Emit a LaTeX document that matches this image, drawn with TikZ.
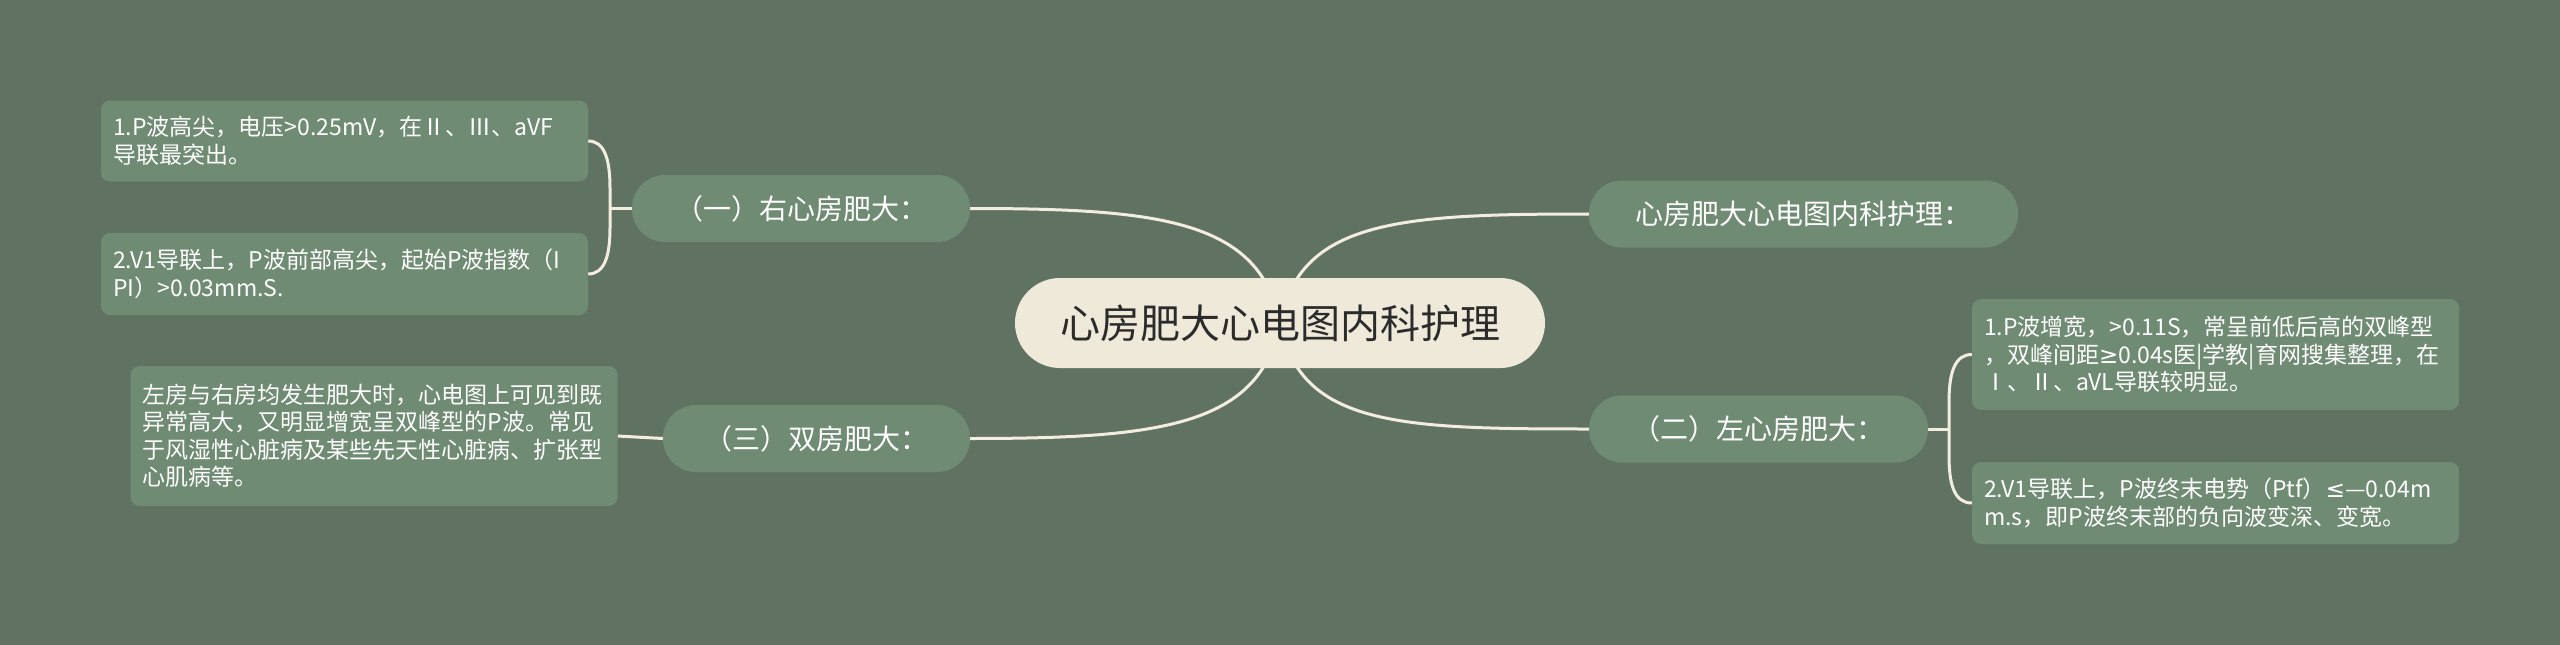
\documentclass[tikz,border=0pt]{standalone}
\usepackage{fontspec}
\setmainfont{Noto Sans CJK SC}
\newfontfamily\symfont{DejaVu Sans}
\usetikzlibrary{backgrounds}
\definecolor{bg}{HTML}{607363}
\definecolor{nodefill}{HTML}{6F8B74}
\definecolor{cream}{HTML}{EFE9DA}
\definecolor{linec}{HTML}{F2EDDF}
\definecolor{darktext}{HTML}{2B2B2B}
\begin{document}
\begin{tikzpicture}[x=1pt,y=-1pt,
 centerbox/.style={fill=cream, rounded corners=45pt, minimum width=530pt, minimum height=90pt, inner sep=0pt, font=\fontsize{40}{48}\selectfont, text=darktext},
 branchbox/.style={fill=nodefill, rounded corners=33pt, minimum height=67pt, inner sep=0pt, font=\fontsize{28}{34}\selectfont, text=white},
 leafbox/.style={fill=nodefill, rounded corners=9pt, inner xsep=12pt, inner ysep=0pt, text width=463pt, align=left, font=\fontsize{23}{27.5}\selectfont, text=white},
 conn/.style={draw=linec, line width=3pt}]
\useasboundingbox (0,0) rectangle (2560,645);
% nodes
\node[centerbox] (c) at (1280,323) {心房肥大心电图内科护理};
\node[branchbox, minimum width=338pt] (b1) at (801,208.5) {（一）右心房肥大：};
\node[branchbox, minimum width=307pt] (b3) at (816.5,438.5) {（三）双房肥大：};
\node[branchbox, minimum width=429pt] (b0) at (1803.5,214) {心房肥大心电图内科护理：};
\node[branchbox, minimum width=339pt] (b2) at (1758.5,429) {（二）左心房肥大：};
\node[leafbox, minimum height=81pt] (l1a) at (344.5,141) {1.P波高尖，电压>0.25mV，在Ⅱ、Ⅲ、aVF\\导联最突出。};
\node[leafbox, minimum height=82pt] (l1b) at (344.5,274) {2.V1导联上，P波前部高尖，起始P波指数（I\\PI）>0.03mm.S.};
\node[leafbox, minimum height=140pt] (l3) at (374,436) {左房与右房均发生肥大时，心电图上可见到既\\异常高大，又明显增宽呈双峰型的P波。常见\\于风湿性心脏病及某些先天性心脏病、扩张型\\心肌病等。};
\node[leafbox, minimum height=111pt] (l2a) at (2215.5,354.5) {1.P波增宽，>0.11S，常呈前低后高的双峰型\\，双峰间距{\symfont ≥}0.04s医|学教|育网搜集整理，在\\Ⅰ、Ⅱ、aVL导联较明显。};
\node[leafbox, minimum height=82pt] (l2b) at (2215.5,503) {2.V1导联上，P波终末电势（Ptf）{\symfont ≤}—0.04m\\m.s，即P波终末部的负向波变深、变宽。};
\coordinate (k1) at (610,208.5);
\coordinate (k2) at (1949,429);
\begin{scope}[on background layer]
\fill[bg] (0,0) rectangle (2560,645);
\draw[conn] (c.center) .. controls (1260,220) and (1160,208.5) .. (b1.east);
\draw[conn] (c.center) .. controls (1300,220) and (1400,214) .. (b0.west);
\draw[conn] (c.center) .. controls (1260,426) and (1160,438.5) .. (b3.east);
\draw[conn] (c.center) .. controls (1300,426) and (1400,429) .. (b2.west);
\draw[conn] (l1a.east) .. controls (604,141) and (610,158) .. (610,188) -- (610,228) .. controls (610,257) and (604,274) .. (l1b.east);
\draw[conn] (k1) -- (b1.west);
\draw[conn] (l3.east) -- (b3.west);
\draw[conn] (l2a.west) .. controls (1955,354.5) and (1949,372) .. (1949,402) -- (1949,456) .. controls (1949,486) and (1955,503) .. (l2b.west);
\draw[conn] (b2.east) -- (k2);
\end{scope}
\end{tikzpicture}
\end{document}
